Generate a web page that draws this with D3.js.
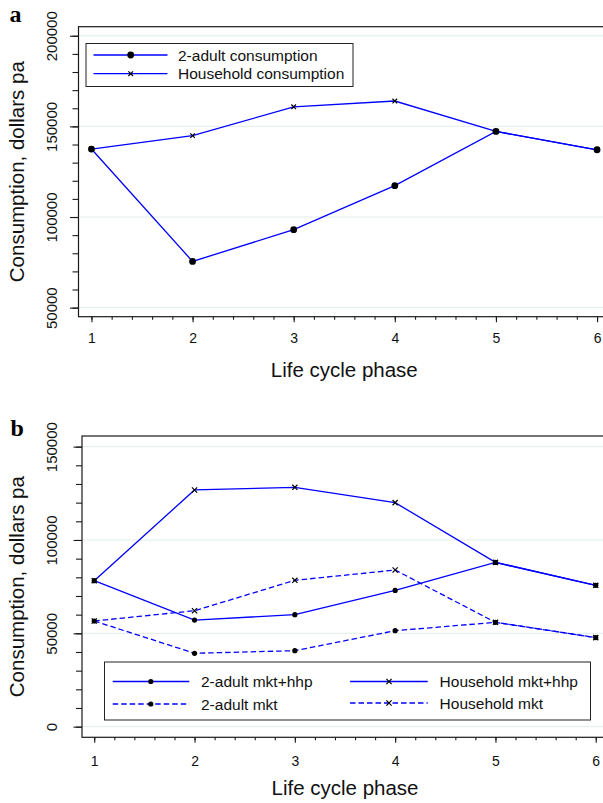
<!DOCTYPE html>
<html lang="en">
<head>
<meta charset="utf-8">
<title>Consumption over the life cycle</title>
<script src="https://d3js.org/d3.v7.min.js"></script>
<style>
    body {
        margin: 0;
        background: #fff;
    }
    svg {
        display: block;
        font-family: "Liberation Sans", Arial, Helvetica, sans-serif;
    }
    .grid line {
        stroke: #e3ecee;
        stroke-width: 1;
    }
    .frame {
        fill: none;
        stroke: #1a1a1a;
        stroke-width: 1.2;
    }
    .axis .domain {
        display: none;
    }
    .axis line {
        stroke: #1a1a1a;
        stroke-width: 1.1;
    }
    .axis text {
        fill: #111;
    }
    .series {
        fill: none;
        stroke: #0000ff;
        stroke-width: 1.3;
    }
    .dashed {
        stroke-dasharray: 5.5, 3;
    }
    .dot {
        fill: #000;
    }
    .cross {
        stroke: #000;
        stroke-width: 1.2;
    }
    .legend rect {
        fill: #fff;
        stroke: #222;
        stroke-width: 1;
    }
    .legend text {
        font-size: 15.5px;
        fill: #111;
    }
    .tag {
        font-family: "Liberation Serif", "Times New Roman", serif;
        font-weight: bold;
        font-size: 24px;
    }
    .title {
        font-size: 20.5px;
        fill: #111;
    }
</style>
</head>
<body>
<div id="chart"></div>
<script>

//_____________________________DATA_____________________________
var phases = [1, 2, 3, 4, 5, 6];

// panel a
var adultCons     = [137500, 75500, 93000, 117300, 147200, 137100];
var householdCons = [137500, 144900, 160800, 164000, 147200, 137100];
var yTicksA = [50000, 100000, 150000, 200000];

// panel b
var adultMktHhp     = [78200, 57100, 60000, 73000, 88000, 75700];
var householdMktHhp = [78200, 126800, 128200, 120000, 88000, 75700];
var adultMkt        = [56600, 39300, 40700, 51400, 55900, 47700];
var householdMkt    = [56600, 62100, 78400, 83900, 55900, 47700];
var yTicksB = [0, 50000, 100000, 150000];

var xTitle = "Life cycle phase";
var yTitle = "Consumption, dollars pa";

//_____________________________SVG_____________________________
var svg = d3.select("#chart").append("svg")
    .attr("width", 603)
    .attr("height", 803);

var panels = [
    {
        tag: "a", tagX: 9.5, tagY: 21.7,
        left: 78.5, right: 610, top: 26.7, bottom: 316.7,
        xDomain: [0.872, 6.128], yDomain: [45000, 205000],
        yTicks: yTicksA, yMinor: d3.range(50000, 200001, 10000),
        yLabelOff: 21.5, xLabelOff: 26.6, xTitleY: 377.3, yTitleX: 23.5,
        r: 3.4, cross: 2.3,
        series: [
            { values: adultCons, marker: "dot", dashed: false, label: "2-adult consumption" },
            { values: householdCons, marker: "cross", dashed: false, label: "Household consumption" }
        ],
        legend: {
            x: 86, y: 43.5, w: 267, h: 43,
            items: [
                { s: 0, x1: 93.5, x2: 167.5, mx: 130.7, tx: 178, y: 55 },
                { s: 1, x1: 93.5, x2: 167.5, mx: 130.7, tx: 178, y: 73.7 }
            ]
        }
    },
    {
        tag: "b", tagX: 10.5, tagY: 436,
        left: 82, right: 608, top: 436, bottom: 737.3,
        xDomain: [0.878, 6.122], yDomain: [-5700, 155700],
        yTicks: yTicksB, yMinor: d3.range(0, 150001, 10000),
        yLabelOff: 25, xLabelOff: 28.4, xTitleY: 795, yTitleX: 23.5,
        r: 2.6, cross: 2.6,
        series: [
            { values: adultMktHhp, marker: "dot", dashed: false, label: "2-adult mkt+hhp" },
            { values: householdMktHhp, marker: "cross", dashed: false, label: "Household mkt+hhp" },
            { values: adultMkt, marker: "dot", dashed: true, label: "2-adult mkt" },
            { values: householdMkt, marker: "cross", dashed: true, label: "Household mkt" }
        ],
        legend: {
            x: 104.5, y: 662, w: 486, h: 58,
            items: [
                { s: 0, x1: 112.7, x2: 189.3, mx: 150.8, tx: 201, y: 681.5 },
                { s: 1, x1: 350, x2: 427.7, mx: 389, tx: 439.6, y: 681.5 },
                { s: 2, x1: 112.7, x2: 189.3, mx: 150.8, tx: 201, y: 704 },
                { s: 3, x1: 350, x2: 427.7, mx: 389, tx: 439.6, y: 703 }
            ]
        }
    }
];

panels.forEach(drawPanel);

//____________________________FUNCTIONS____________________________

function drawMarker(sel, kind, cx, cy, p) {
    if (kind == "dot") {
        sel.append("circle").attr("class", "dot")
            .attr("cx", cx).attr("cy", cy).attr("r", p.r);
    } else {
        var c = p.cross;
        sel.append("path").attr("class", "cross")
            .attr("d", "M" + (cx - c) + "," + (cy - c) + "L" + (cx + c) + "," + (cy + c) +
                       "M" + (cx - c) + "," + (cy + c) + "L" + (cx + c) + "," + (cy - c));
    }
}

function drawPanel(p) {
    var x = d3.scaleLinear().domain(p.xDomain).range([p.left, p.right]);
    var y = d3.scaleLinear().domain(p.yDomain).range([p.bottom, p.top]);
    var g = svg.append("g");

    // light gridlines at the labelled values
    g.append("g").attr("class", "grid")
        .selectAll("line").data(p.yTicks).join("line")
        .attr("x1", p.left).attr("x2", p.right)
        .attr("y1", function (d) { return y(d); })
        .attr("y2", function (d) { return y(d); });

    // plot box
    g.append("rect").attr("class", "frame")
        .attr("x", p.left).attr("y", p.top)
        .attr("width", p.right - p.left).attr("height", p.bottom - p.top);

    // y axis, minor then major
    g.append("g").attr("class", "axis")
        .attr("transform", "translate(" + p.left + ",0)")
        .call(d3.axisLeft(y).tickValues(p.yMinor).tickSize(6).tickFormat(""));

    var yAx = g.append("g").attr("class", "axis")
        .attr("transform", "translate(" + p.left + ",0)")
        .call(d3.axisLeft(y).tickValues(p.yTicks).tickSize(8.5).tickFormat(d3.format("d")))
        .attr("font-family", null).attr("font-size", 15);
    yAx.selectAll("text")
        .attr("transform", "rotate(-90)")
        .attr("x", 0).attr("y", -p.yLabelOff).attr("dy", 0)
        .attr("text-anchor", "middle");

    // x axis, minor then major
    g.append("g").attr("class", "axis")
        .attr("transform", "translate(0," + p.bottom + ")")
        .call(d3.axisBottom(x).tickValues(d3.range(1, 6.01, 0.2)).tickSize(3).tickFormat(""));

    var xAx = g.append("g").attr("class", "axis")
        .attr("transform", "translate(0," + p.bottom + ")")
        .call(d3.axisBottom(x).tickValues(phases).tickSize(5.5).tickFormat(d3.format("d")))
        .attr("font-family", null).attr("font-size", 14);
    xAx.selectAll("text").attr("y", p.xLabelOff).attr("dy", 0);

    // axis titles
    g.append("text").attr("class", "title")
        .attr("x", (p.left + p.right) / 2).attr("y", p.xTitleY)
        .attr("text-anchor", "middle").text(xTitle);
    g.append("text").attr("class", "title")
        .attr("transform", "translate(" + p.yTitleX + "," + (p.top + p.bottom) / 2 + ") rotate(-90)")
        .attr("text-anchor", "middle").text(yTitle);

    // panel letter
    g.append("text").attr("class", "tag")
        .attr("x", p.tagX).attr("y", p.tagY).text(p.tag);

    // series lines and markers
    var line = d3.line()
        .x(function (d, i) { return x(phases[i]); })
        .y(function (d) { return y(d); });

    p.series.forEach(function (s) {
        g.append("path")
            .attr("class", s.dashed ? "series dashed" : "series")
            .attr("d", line(s.values));
    });
    p.series.forEach(function (s) {
        var mg = g.append("g");
        s.values.forEach(function (v, i) {
            drawMarker(mg, s.marker, x(phases[i]), y(v), p);
        });
    });

    // legend
    var lg = g.append("g").attr("class", "legend");
    lg.append("rect")
        .attr("x", p.legend.x).attr("y", p.legend.y)
        .attr("width", p.legend.w).attr("height", p.legend.h);
    p.legend.items.forEach(function (it) {
        var s = p.series[it.s];
        lg.append("line")
            .attr("class", s.dashed ? "series dashed" : "series")
            .attr("x1", it.x1).attr("x2", it.x2)
            .attr("y1", it.y).attr("y2", it.y);
        drawMarker(lg, s.marker, it.mx, it.y, p);
        lg.append("text").attr("x", it.tx).attr("y", it.y + 5.5).text(s.label);
    });
}

</script>
</body>
</html>
